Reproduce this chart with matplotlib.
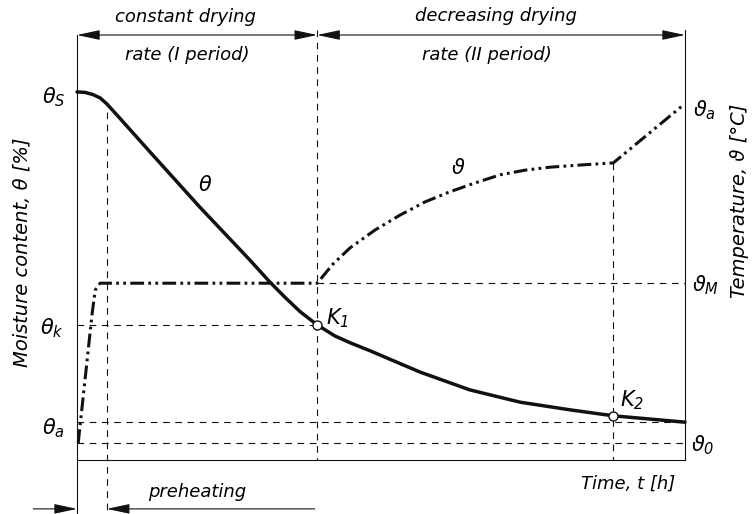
import matplotlib
matplotlib.use('Agg')
import matplotlib.pyplot as plt

plt.rcParams['font.family'] = 'DejaVu Sans'
plt.rcParams['font.style'] = 'italic'
plt.rcParams['mathtext.fontset'] = 'dejavusans'
plt.rcParams['mathtext.default'] = 'it'

# Moisture content curve (theta), time and value in % of axis range
theta_t = [0.0, 1.3, 2.6, 3.8, 4.9, 6.3, 12.0, 20.2, 28.4, 31.7, 34.2, 36.7, 39.5,
           42.4, 44.9, 48.2, 56.4, 64.6, 72.9, 81.1, 88.2, 100.0]
theta_v = [86.6, 86.5, 86.0, 85.2, 83.8, 81.6, 72.5, 59.5, 47.1, 41.9, 38.3, 34.9, 31.8,
           29.2, 27.6, 25.7, 20.7, 16.5, 13.6, 11.8, 10.4, 8.9]

# Temperature curve (vartheta)
temp_t = [0.2, 2.5, 3.0, 3.8, 39.5, 42.1, 44.9, 49.0, 53.1, 57.2, 61.3, 65.5,
          69.6, 73.7, 77.8, 82.7, 88.2, 99.7]
temp_v = [4.0, 34.6, 40.0, 41.6, 41.6, 46.1, 49.9, 54.1, 57.6, 60.7, 63.1, 65.2,
          67.1, 68.2, 68.9, 69.4, 69.9, 83.5]

# characteristic levels / times
theta_k = 31.8
theta_a = 8.9
temp_M = 41.6
temp_0 = 4.0
t_pre = 4.9
t_K1 = 39.5
t_K2 = 88.2
theta_K2 = 10.4

fig = plt.figure(figsize=(7.53, 5.14), dpi=100)
ax = fig.add_axes([77 / 753, 54 / 514, 608 / 753, 425 / 514])
ax.set_xlim(0, 100)
ax.set_ylim(0, 100)
ax.axis('off')

ink = '#111111'
thin = dict(color=ink, lw=0.8, clip_on=False)
dash = dict(color=ink, lw=0.8, ls=(0, (6, 5)), clip_on=False)

# frame
ax.plot([0, 0], [100, -12.5], **thin)
ax.plot([0, 100], [0, 0], **thin)
ax.plot([100, 100], [101.2, 0], **thin)

# helper lines
ax.plot([0, t_K1], [theta_k, theta_k], **dash)
ax.plot([t_K1, 100], [temp_M, temp_M], **dash)
ax.plot([0, 100], [theta_a, theta_a], **dash)
ax.plot([0, 100], [temp_0, temp_0], **dash)
ax.plot([t_K1, t_K1], [101.2, 0], **dash)
ax.plot([t_pre, t_pre], [82.0, -12.5], **dash)
ax.plot([t_K2, t_K2], [temp_v[-2], 0], **dash)

# curves
ax.plot(theta_t, theta_v, color=ink, lw=2.5, solid_capstyle='round',
        solid_joinstyle='round', clip_on=False)
ax.plot(temp_t, temp_v, color=ink, lw=2.2, ls=(0, (4.5, 1.4, 0.9, 1.4, 0.9, 1.4)),
        dash_joinstyle='round', clip_on=False)
ax.plot([t_K1, t_K2], [theta_k, theta_K2], ls='none', marker='o', ms=6.5,
        mfc='white', mec=ink, mew=1.0, zorder=5)

# period arrows
arr = dict(arrowstyle='<|-|>,head_length=1.4,head_width=0.3', lw=0.8, color=ink,
           shrinkA=0, shrinkB=0)
ax.annotate('', xy=(0, 100), xytext=(t_K1, 100), arrowprops=arr, annotation_clip=False)
ax.annotate('', xy=(t_K1, 100), xytext=(100, 100), arrowprops=arr, annotation_clip=False)
one = dict(arrowstyle='-|>,head_length=1.4,head_width=0.3', lw=0.8, color=ink,
           shrinkA=0, shrinkB=0)
ax.annotate('', xy=(0, -11.5), xytext=(-7.2, -11.5), arrowprops=one, annotation_clip=False)
ax.annotate('', xy=(t_pre, -11.5), xytext=(39.1, -11.5), arrowprops=one, annotation_clip=False)

# texts
big = 13
ax.text(17.9, 104.2, 'constant drying', fontsize=big, ha='center', va='center')
ax.text(18.1, 95.3, 'rate (I period)', fontsize=big, ha='center', va='center')
ax.text(68.9, 104.5, 'decreasing drying', fontsize=big, ha='center', va='center')
ax.text(67.4, 95.3, 'rate (II period)', fontsize=big, ha='center', va='center')
ax.text(19.7, -7.5, 'preheating', fontsize=big, ha='center', va='center')
ax.text(90.6, -5.6, 'Time, t [h]', fontsize=big, ha='center', va='center')
ax.text(-9.0, 49.0, 'Moisture content, θ [%]', fontsize=14, rotation=90,
        ha='center', va='center')
ax.text(109.0, 61.0, 'Temperature, ϑ [°C]', fontsize=14, rotation=90,
        ha='center', va='center')

sym = 15
ax.text(-3.8, 85.4, r'$\theta_S$', fontsize=sym, ha='center', va='center')
ax.text(-4.1, 31.1, r'$\theta_k$', fontsize=sym, ha='center', va='center')
ax.text(-3.9, 7.5, r'$\theta_a$', fontsize=sym, ha='center', va='center')
ax.text(103.2, 82.4, r'$\vartheta_a$', fontsize=sym, ha='center', va='center')
ax.text(103.4, 41.2, r'$\vartheta_M$', fontsize=sym, ha='center', va='center')
ax.text(102.9, 3.5, r'$\vartheta_0$', fontsize=sym, ha='center', va='center')
ax.text(21.1, 64.7, r'$\theta$', fontsize=sym, ha='center', va='center')
ax.text(62.7, 68.7, r'$\vartheta$', fontsize=sym, ha='center', va='center')
ax.text(42.9, 33.4, r'$K_1$', fontsize=sym, ha='center', va='center')
ax.text(91.3, 14.1, r'$K_2$', fontsize=sym, ha='center', va='center')

fig.savefig('out.png', dpi=100, facecolor='white')
